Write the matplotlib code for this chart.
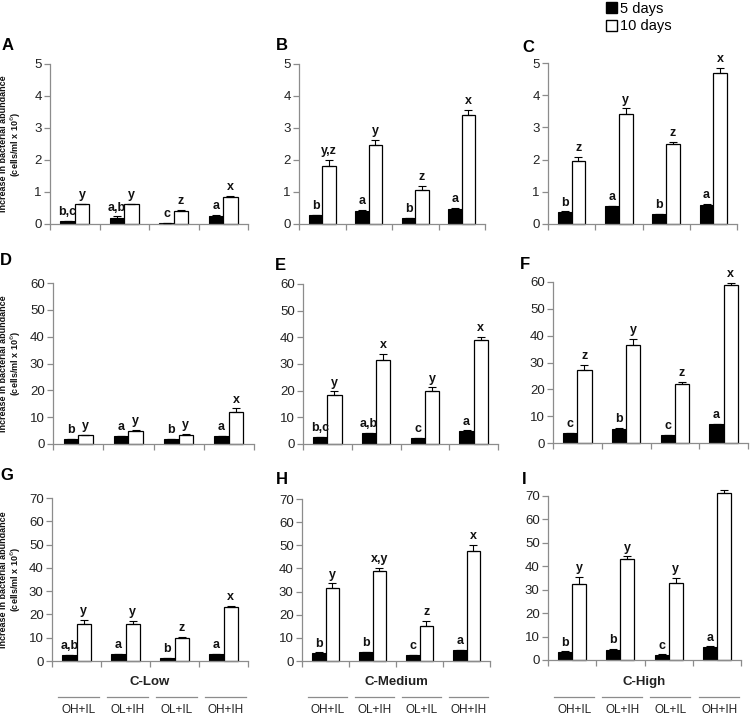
import numpy as np
import matplotlib
matplotlib.use("Agg")
import matplotlib.pyplot as plt
from matplotlib.patches import Patch
import matplotlib.transforms as mtransforms

plt.rcParams['font.family'] = ['Liberation Sans', 'DejaVu Sans']

# ---- data ----
treatments = ["OH+IL", "OL+IH", "OL+IL", "OH+IH"]
carbon_levels = ["C-Low", "C-Medium", "C-High"]
panel_names = ["A", "B", "C", "D", "E", "F", "G", "H", "I"]

day5 = {
    "A": [0.08, 0.18, 0.02, 0.25],
    "B": [0.27, 0.40, 0.18, 0.48],
    "C": [0.37, 0.55, 0.30, 0.60],
    "D": [1.8, 2.8, 1.8, 2.8],
    "E": [2.5, 4.0, 2.2, 4.8],
    "F": [3.7, 5.4, 2.9, 6.9],
    "G": [2.4, 2.8, 1.2, 2.8],
    "H": [3.5, 3.8, 2.4, 4.6],
    "I": [3.4, 4.3, 2.1, 5.6],
}
day5_err = {
    "A": [0.01, 0.06, 0.01, 0.03],
    "B": [0.02, 0.03, 0.02, 0.02],
    "C": [0.02, 0.02, 0.02, 0.02],
    "D": [0.2, 0.2, 0.2, 0.2],
    "E": [0.2, 0.3, 0.2, 0.3],
    "F": [0.2, 0.3, 0.2, 0.2],
    "G": [0.3, 0.4, 0.2, 0.3],
    "H": [0.2, 0.2, 0.2, 0.3],
    "I": [0.3, 0.3, 0.3, 0.2],
}
day10 = {
    "A": [0.63, 0.62, 0.40, 0.85],
    "B": [1.82, 2.48, 1.06, 3.42],
    "C": [1.97, 3.42, 2.48, 4.68],
    "D": [3.2, 5.0, 3.5, 11.8],
    "E": [18.2, 31.5, 20.0, 39.0],
    "F": [27.2, 36.7, 22.1, 58.7],
    "G": [16.0, 16.0, 10.0, 23.0],
    "H": [31.5, 39.0, 15.3, 47.7],
    "I": [32.5, 43.0, 33.0, 71.3],
}
day10_err = {
    "A": [0.01, 0.02, 0.03, 0.03],
    "B": [0.18, 0.15, 0.12, 0.15],
    "C": [0.12, 0.17, 0.08, 0.17],
    "D": [0.3, 0.3, 0.4, 1.5],
    "E": [1.5, 2.3, 1.2, 1.2],
    "F": [1.8, 2.2, 0.8, 1.0],
    "G": [1.6, 1.2, 0.3, 0.8],
    "H": [2.0, 1.3, 2.2, 2.5],
    "I": [3.0, 1.2, 2.2, 1.2],
}
letters5 = {
    "A": ["b,c", "a,b", "c", "a"],
    "B": ["b", "a", "b", "a"],
    "C": ["b", "a", "b", "a"],
    "D": ["b", "a", "b", "a"],
    "E": ["b,c", "a,b", "c", "a"],
    "F": ["c", "b", "c", "a"],
    "G": ["a,b", "a", "b", "a"],
    "H": ["b", "b", "c", "a"],
    "I": ["b", "b", "c", "a"],
}
letters10 = {
    "A": ["y", "y", "z", "x"],
    "B": ["y,z", "y", "z", "x"],
    "C": ["z", "y", "z", "x"],
    "D": ["y", "y", "y", "x"],
    "E": ["y", "x", "y", "x"],
    "F": ["z", "y", "z", "x"],
    "G": ["y", "y", "z", "x"],
    "H": ["y", "x,y", "z", "x"],
    "I": ["y", "y", "y", "x"],
}
row_ymax = [5, 60, 70]
row_step = [1, 10, 10]

# ---- layout (pixels in a 750 x 717 canvas) ----
W, H = 750, 717
# left, right, y of zero, y of ymax
boxes = {
    "A": (50, 248, 224, 64), "B": (299, 485, 224, 64), "C": (548, 737, 224, 63),
    "D": (53, 254, 444, 283), "E": (303, 498, 444, 284), "F": (553, 748, 443, 282),
    "G": (52, 248, 661, 498), "H": (302, 490, 661, 499), "I": (548, 741, 660, 496),
}
letter_pos = {
    "A": (2, 45), "B": (276, 45), "C": (522, 48),
    "D": (0, 260), "E": (275, 265), "F": (520, 264),
    "G": (0, 476), "H": (276, 480), "I": (522, 480),
}

gray = "#8c8c8c"
fig = plt.figure(figsize=(W / 100, H / 100), dpi=100)

x = np.arange(4) + 0.5
bw = 0.29

for idx, name in enumerate(panel_names):
    row, col = divmod(idx, 3)
    l, r, y0, y1 = boxes[name]
    ax = fig.add_axes([l / W, 1 - y0 / H, (r - l) / W, (y0 - y1) / H])
    ymax = row_ymax[row]

    v5, v10 = np.array(day5[name]), np.array(day10[name])
    e5, e10 = np.array(day5_err[name]), np.array(day10_err[name])
    ax.bar(x - bw / 2, v5, bw, color="black", edgecolor="black", linewidth=0.8,
           zorder=2, clip_on=False)
    ax.bar(x + bw / 2, v10, bw, color="white", edgecolor="black", linewidth=0.9,
           zorder=2, clip_on=False)
    for xs, vs, es in [(x - bw / 2, v5, e5), (x + bw / 2, v10, e10)]:
        eb = ax.errorbar(xs, vs, yerr=[np.zeros(4), es], fmt="none", ecolor="black",
                         elinewidth=0.8, capsize=3, capthick=0.8, zorder=3)
        for art in eb.lines[1] + eb.lines[2]:
            art.set_clip_on(False)

    for i in range(4):
        ax.annotate(letters5[name][i], (x[i] - bw / 2, v5[i] + e5[i]), xytext=(0, 2),
                    textcoords="offset points", ha="center", va="bottom",
                    fontsize=9, fontweight="bold", color="#111111")
        ax.annotate(letters10[name][i], (x[i] + bw / 2, v10[i] + e10[i]), xytext=(0, 2),
                    textcoords="offset points", ha="center", va="bottom",
                    fontsize=9, fontweight="bold", color="#111111")

    ax.set_xlim(0, 4)
    ax.set_ylim(0, ymax)
    ax.set_yticks(np.arange(0, ymax + 0.1, row_step[row]))
    ax.set_xticks(np.arange(5))
    ax.set_xticklabels([])
    for s in ["top", "right"]:
        ax.spines[s].set_visible(False)
    for s in ["left", "bottom"]:
        ax.spines[s].set_color(gray)
        ax.spines[s].set_linewidth(0.9)
    ax.tick_params(axis="both", direction="out", length=4, width=0.9, color=gray,
                   labelsize=9.5, labelcolor="#222222", pad=2)
    ax.set_facecolor("none")

    lx, ly = letter_pos[name]
    fig.text(lx / W, 1 - ly / H, name, fontsize=12, fontweight="bold", ha="left", va="center")

    if col == 0:
        fig.text(11 / W, 1 - (y0 + y1) / 2 / H,
                 "Increase in bacterial abundance\n(cells/ml x 10$^{6}$)",
                 rotation=90, ha="center", va="center", fontsize=6.5, fontweight="bold",
                 linespacing=1.15, color="#111111")

    if row == 2:
        trans = mtransforms.blended_transform_factory(ax.transData, fig.transFigure)
        for i in range(4):
            ax.plot([i + 0.12, i + 0.95], [1 - 697 / H] * 2, color=gray, linewidth=0.9,
                    transform=trans, clip_on=False)
            ax.text(i + 0.55, 1 - 710 / H, treatments[i], transform=trans, ha="center",
                    va="center", fontsize=8.5, color="#222222")
        ax.text(2.0, 1 - 682 / H, carbon_levels[col], transform=trans, ha="center",
                va="center", fontsize=9.5, fontweight="bold", color="#222222")

handles = [Patch(facecolor="black", edgecolor="black"),
           Patch(facecolor="white", edgecolor="black")]
fig.legend(handles, ["5 days", "10 days"], loc="upper left", bbox_to_anchor=(596 / W, 1.012),
           frameon=False, fontsize=10.5, handlelength=0.75, handleheight=0.75,
           handletextpad=0.2, labelspacing=0.25, borderpad=0.2)

fig.savefig("out.png", dpi=100)
